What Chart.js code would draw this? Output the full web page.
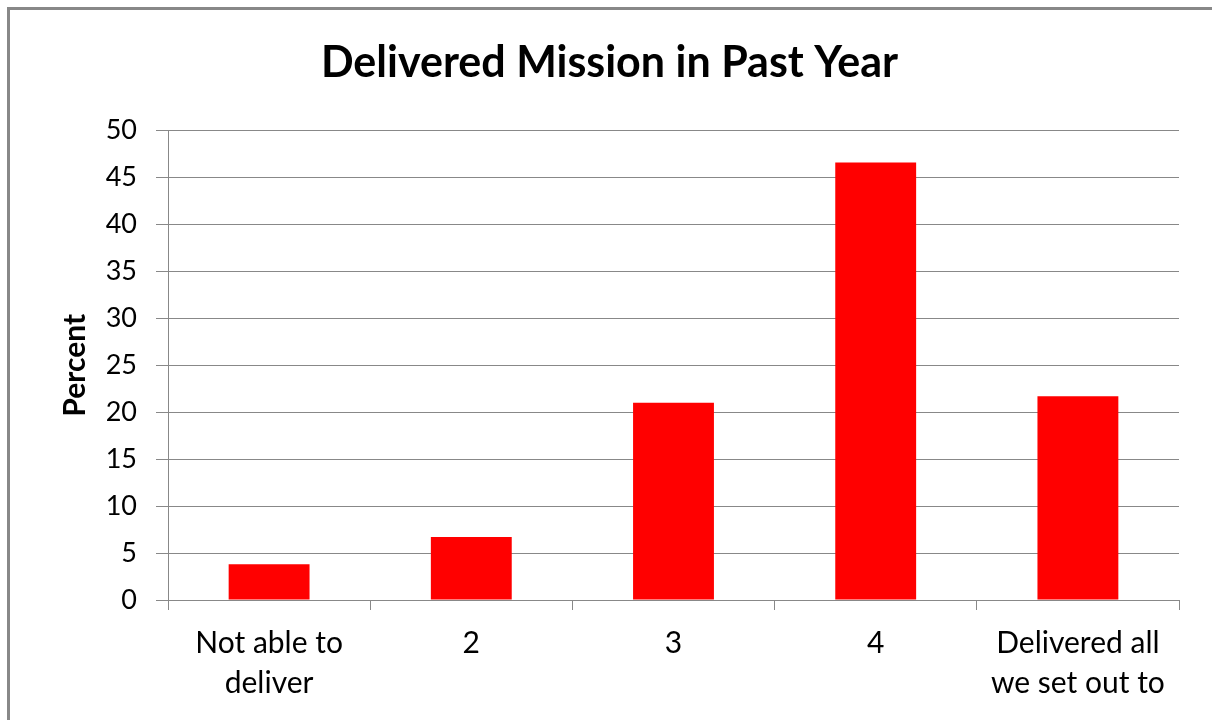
<!DOCTYPE html>
<html>
<head>
<meta charset="utf-8">
<script src="https://cdn.jsdelivr.net/npm/chart.js@4"></script>
<style>
  html, body { margin: 0; padding: 0; background: #fff; overflow: hidden; }
  #frame { position: absolute; left: 7px; top: 7px; width: 1300px; height: 800px;
           border-top: 3px solid #888; border-left: 3px solid #888; }
  #wrap { position: absolute; left: 0; top: 0; width: 1212px; height: 720px; }
</style>
</head>
<body>
<div id="frame"></div>
<div id="wrap"><canvas id="missionChart" width="1212" height="720"></canvas></div>
<script>
// chart data
const categories = [['Not able to', 'deliver'], '2', '3', '4', ['Delivered all', 'we set out to']];
const percentValues = [3.8, 6.7, 21.0, 46.6, 21.7];
const yTicks = [0, 5, 10, 15, 20, 25, 30, 35, 40, 45, 50];

const gridGray = '#888888';

const ctx = document.getElementById('missionChart').getContext('2d');
const missionChart = new Chart(ctx, {
    type: 'bar',
    data: {
        labels: categories,
        datasets: [{
            label: 'Percent',
            data: percentValues,
            backgroundColor: '#ff0000',
            borderWidth: 0,
            categoryPercentage: 1,
            barPercentage: 0.4
        }]
    },
    options: {
        responsive: false,
        animation: false,
        layout: { padding: { left: 40, right: 33, top: 0, bottom: 0 } },
        plugins: {
            legend: { display: false },
            tooltip: { enabled: false },
            title: {
                display: true,
                text: 'Delivered Mission in Past Year',
                color: '#000',
                font: { family: 'Lato', size: 43, weight: 'bold', lineHeight: 1.2 },
                padding: { top: 37, bottom: 42 }
            }
        },
        scales: {
            x: {
                grid: { display: true, drawOnChartArea: false, color: gridGray, tickLength: 10, offset: true },
                border: { color: gridGray, width: 1 },
                ticks: {
                    color: '#000',
                    padding: 13,
                    maxRotation: 0,
                    font: { family: 'Lato', size: 30, lineHeight: 1.33 }
                },
                afterFit: function (scale) { scale.height = 120; }
            },
            y: {
                min: 0,
                max: 50,
                afterBuildTicks: function (scale) {
                    scale.ticks = yTicks.map(v => ({ value: v }));
                },
                grid: { color: gridGray, tickLength: 12, lineWidth: 1 },
                border: { color: gridGray, width: 1 },
                ticks: {
                    color: '#000',
                    padding: 19,
                    font: { family: 'Lato', size: 27 }
                },
                title: {
                    display: true,
                    text: 'Percent',
                    color: '#000',
                    padding: { top: 20, bottom: 0 },
                    font: { family: 'Lato', size: 30, weight: 'bold', lineHeight: 1 }
                },
                afterFit: function (scale) { scale.width = 128; }
            }
        }
    }
});
</script>
</body>
</html>
